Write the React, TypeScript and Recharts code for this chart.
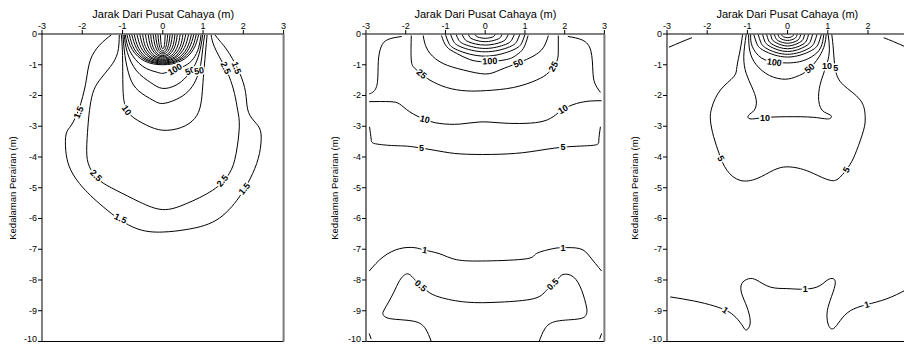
import React from "react";
import { ScatterChart, Scatter, XAxis, YAxis } from "recharts";

type Pt = [number, number];

interface ContourLabel {
  x: number;
  y: number;
  t: string;
  a: number;
}

const xTicks = [-3, -2, -1, 0, 1, 2, 3];
const yTicks = [0, -1, -2, -3, -4, -5, -6, -7, -8, -9, -10];

const xTitle = "Jarak Dari Pusat Cahaya (m)";
const yTitle = "Kedalaman Perairan (m)";

// ---- panel 1 ----
const p1Lv1_5: Pt[] = [[-1.28,-0.03],[-1.57,-0.36],[-1.8,-0.85],[-1.9,-1.5],[-1.99,-2.04],[-2.1,-2.5],[-2.27,-2.96],[-2.4,-3.25],[-2.41,-3.78],[-2.32,-4.32],[-2.07,-4.86],[-1.57,-5.52],[-0.74,-6.28],[0,-6.44],[0.58,-6.36],[1.32,-6.06],[1.9,-5.3],[2.23,-4.54],[2.4,-3.89],[2.44,-3.25],[2.32,-2.91],[2.13,-2.55],[2.07,-2.04],[1.95,-1.4],[1.65,-0.63],[1.4,-0.2],[1.3,-0.03]];
const p1Lv2_5: Pt[] = [[-1.08,-0.03],[-1.12,-0.6],[-1.3,-1.06],[-1.57,-1.5],[-1.74,-1.93],[-1.82,-2.48],[-1.86,-3.02],[-1.89,-3.78],[-1.82,-4.32],[-1.57,-4.76],[-1.16,-5.08],[-0.58,-5.46],[0,-5.71],[0.58,-5.52],[1.24,-5.08],[1.65,-4.54],[1.82,-3.89],[1.9,-3.02],[1.86,-2.48],[1.78,-1.93],[1.65,-1.39],[1.49,-0.95],[1.28,-0.41],[1.2,-0.03]];
const p1Lv10: Pt[] = [[-1.03,-0.03],[-1.0,-0.7],[-0.99,-1.72],[-0.95,-2.26],[-0.8,-2.64],[-0.41,-2.96],[0,-3.13],[0.46,-3.04],[0.79,-2.75],[0.94,-2.31],[0.99,-1.72],[1.03,-1.06],[1.1,-0.03]];
const p1Lv25: Pt[] = [[-0.99,-0.03],[-0.94,-0.7],[-0.82,-1.4],[-0.6,-1.85],[-0.25,-2.15],[0,-2.26],[0.33,-2.13],[0.62,-1.88],[0.82,-1.5],[0.94,-1.0],[0.99,-0.5],[1.04,-0.03]];
const p1Lv50: Pt[] = [[-0.96,-0.03],[-0.88,-0.6],[-0.65,-1.2],[-0.3,-1.58],[0,-1.77],[0.33,-1.66],[0.58,-1.4],[0.8,-1.0],[0.93,-0.5],[0.99,-0.03]];
const p1Lv100: Pt[] = [[-0.93,-0.03],[-0.82,-0.55],[-0.5,-1.05],[-0.15,-1.24],[0,-1.28],[0.21,-1.2],[0.54,-1.04],[0.76,-0.8],[0.89,-0.45],[0.95,-0.03]];
const p1Core: Pt[][] = [
  [[-0.89,-0.02],[-0.76,-0.5],[-0.45,-0.88],[0,-1.0],[0.45,-0.88],[0.76,-0.5],[0.89,-0.02]],
  [[-0.83,-0.02],[-0.71,-0.49],[-0.42,-0.85],[0,-0.97],[0.42,-0.85],[0.71,-0.49],[0.83,-0.02]],
  [[-0.77,-0.02],[-0.65,-0.47],[-0.39,-0.83],[0,-0.94],[0.39,-0.83],[0.65,-0.47],[0.77,-0.02]],
  [[-0.71,-0.02],[-0.6,-0.46],[-0.36,-0.8],[0,-0.91],[0.36,-0.8],[0.6,-0.46],[0.71,-0.02]],
  [[-0.64,-0.02],[-0.54,-0.44],[-0.32,-0.77],[0,-0.88],[0.32,-0.77],[0.54,-0.44],[0.64,-0.02]],
  [[-0.57,-0.02],[-0.48,-0.43],[-0.29,-0.75],[0,-0.85],[0.29,-0.75],[0.48,-0.43],[0.57,-0.02]],
  [[-0.5,-0.02],[-0.43,-0.41],[-0.25,-0.72],[0,-0.82],[0.25,-0.72],[0.43,-0.41],[0.5,-0.02]],
  [[-0.43,-0.02],[-0.37,-0.39],[-0.22,-0.69],[0,-0.78],[0.22,-0.69],[0.37,-0.39],[0.43,-0.02]],
  [[-0.36,-0.02],[-0.31,-0.37],[-0.18,-0.65],[0,-0.74],[0.18,-0.65],[0.31,-0.37],[0.36,-0.02]],
  [[-0.3,-0.02],[-0.26,-0.35],[-0.15,-0.62],[0,-0.7],[0.15,-0.62],[0.26,-0.35],[0.3,-0.02]],
  [[-0.24,-0.02],[-0.2,-0.33],[-0.12,-0.57],[0,-0.65],[0.12,-0.57],[0.2,-0.33],[0.24,-0.02]],
  [[-0.18,-0.02],[-0.15,-0.3],[-0.09,-0.53],[0,-0.6],[0.09,-0.53],[0.15,-0.3],[0.18,-0.02]],
  [[-0.12,-0.02],[-0.1,-0.28],[-0.06,-0.48],[0,-0.55],[0.06,-0.48],[0.1,-0.28],[0.12,-0.02]],
  [[-0.06,-0.02],[-0.05,-0.24],[-0.03,-0.42],[0,-0.48],[0.03,-0.42],[0.05,-0.24],[0.06,-0.02]],
];
const p1Labels: ContourLabel[] = [
  { x: -2.09, y: -2.55, t: "1.5", a: -68 },
  { x: -1.66, y: -4.6, t: "2.5", a: 45 },
  { x: -1.05, y: -6.0, t: "1.5", a: 25 },
  { x: 1.48, y: -4.77, t: "2.5", a: -50 },
  { x: 2.03, y: -5.03, t: "1.5", a: -50 },
  { x: 1.56, y: -1.1, t: "2.5", a: 65 },
  { x: 1.83, y: -1.1, t: "1.5", a: 70 },
  { x: 0.3, y: -1.15, t: "100", a: -30 },
  { x: 0.68, y: -1.2, t: "50", a: -20 },
  { x: 0.9, y: -1.2, t: "50", a: -10 },
  { x: -0.9, y: -2.48, t: "10", a: 55 },
];

// ---- panel 2 ----
const p2CornerL: Pt[] = [[-2.92,-1.95],[-2.8,-1.86],[-2.71,-1.55],[-2.69,-0.9],[-2.62,-0.42],[-2.45,-0.18],[-2.1,-0.08]];
const p2CornerR: Pt[] = [[2.08,-0.08],[2.45,-0.2],[2.66,-0.55],[2.71,-1.2],[2.76,-1.6],[2.9,-1.9]];
const p2Lv25: Pt[] = [[-1.86,-0.05],[-1.86,-0.85],[-1.77,-1.12],[-1.6,-1.3],[-1.39,-1.5],[-0.97,-1.74],[-0.47,-1.85],[0.03,-1.84],[0.71,-1.74],[1.29,-1.5],[1.6,-1.25],[1.8,-0.9],[1.84,-0.52],[1.84,-0.05]];
const p2Lv50: Pt[] = [[-1.56,-0.05],[-1.52,-0.3],[-1.39,-0.63],[-1.06,-0.96],[-0.55,-1.17],[0,-1.3],[0.37,-1.17],[0.83,-0.94],[1.21,-0.72],[1.46,-0.45],[1.59,-0.05]];
const p2Lv100: Pt[] = [[-1.1,-0.05],[-0.97,-0.41],[-0.72,-0.63],[-0.39,-0.83],[0,-0.9],[0.54,-0.83],[0.79,-0.68],[0.96,-0.47],[1.08,-0.05]];
const p2Core: Pt[][] = [
  [[-1.0,-0.02],[-0.92,-0.29],[-0.7,-0.52],[0,-0.72],[0.7,-0.52],[0.92,-0.29],[1.0,-0.02]],
  [[-0.87,-0.02],[-0.8,-0.23],[-0.61,-0.42],[0,-0.58],[0.61,-0.42],[0.8,-0.23],[0.87,-0.02]],
  [[-0.73,-0.02],[-0.67,-0.19],[-0.51,-0.34],[0,-0.47],[0.51,-0.34],[0.67,-0.19],[0.73,-0.02]],
  [[-0.58,-0.02],[-0.53,-0.14],[-0.41,-0.26],[0,-0.36],[0.41,-0.26],[0.53,-0.14],[0.58,-0.02]],
  [[-0.42,-0.02],[-0.39,-0.1],[-0.29,-0.18],[0,-0.25],[0.29,-0.18],[0.39,-0.1],[0.42,-0.02]],
  [[-0.25,-0.02],[-0.23,-0.06],[-0.18,-0.1],[0,-0.14],[0.18,-0.1],[0.23,-0.06],[0.25,-0.02]],
];
const p2Lv10: Pt[] = [[-2.92,-2.2],[-2.4,-2.2],[-2.15,-2.28],[-1.9,-2.53],[-1.52,-2.78],[-1.14,-2.91],[-0.64,-2.93],[-0.13,-2.86],[0.37,-2.89],[0.87,-2.91],[1.38,-2.86],[1.71,-2.69],[1.96,-2.45],[2.3,-2.26],[2.64,-2.18],[2.93,-2.17]];
const p2Lv5: Pt[] = [[-2.91,-3.02],[-2.87,-3.42],[-2.76,-3.57],[-2.3,-3.63],[-1.81,-3.67],[-1.06,-3.83],[-0.47,-3.91],[0.37,-3.91],[1.13,-3.83],[1.96,-3.68],[2.72,-3.62],[2.86,-3.45],[2.9,-3.02]];
const p2Lv1: Pt[] = [[-2.92,-7.71],[-2.57,-7.25],[-2.15,-6.98],[-1.77,-6.95],[-1.52,-7.03],[-1.14,-7.15],[-0.72,-7.34],[0.03,-7.38],[1.04,-7.31],[1.29,-7.14],[1.71,-6.98],[1.96,-6.95],[2.38,-6.98],[2.64,-7.25],[2.93,-7.71]];
const p2Lv0_5: Pt[] = [[-1.36,-9.99],[-1.5,-9.59],[-1.8,-9.34],[-2.38,-9.26],[-2.57,-9.12],[-2.53,-8.94],[-2.32,-8.45],[-2.15,-8.01],[-1.96,-7.8],[-1.77,-7.99],[-1.48,-8.34],[-1.14,-8.56],[-0.47,-8.72],[0.37,-8.72],[1.21,-8.61],[1.54,-8.34],[1.8,-8.01],[1.96,-7.82],[2.22,-7.9],[2.43,-8.34],[2.55,-8.88],[2.55,-9.1],[2.38,-9.26],[1.8,-9.34],[1.5,-9.59],[1.36,-9.99]];
const p2EdgeL: Pt[] = [[-2.92,-9.74],[-2.87,-9.92]];
const p2EdgeR: Pt[] = [[2.88,-9.92],[2.93,-9.74]];
const p2Labels: ContourLabel[] = [
  { x: 0.12, y: -0.88, t: "100", a: -3 },
  { x: 0.83, y: -0.95, t: "50", a: -25 },
  { x: -1.6, y: -1.3, t: "25", a: 40 },
  { x: 1.72, y: -1.06, t: "25", a: -60 },
  { x: -1.52, y: -2.78, t: "10", a: 15 },
  { x: 1.96, y: -2.45, t: "10", a: -30 },
  { x: -1.6, y: -3.7, t: "5", a: 0 },
  { x: 1.96, y: -3.68, t: "5", a: 0 },
  { x: -1.52, y: -7.03, t: "1", a: 10 },
  { x: 1.96, y: -6.95, t: "1", a: 0 },
  { x: -1.62, y: -8.19, t: "0.5", a: 40 },
  { x: 1.7, y: -8.14, t: "0.5", a: -45 },
];

// ---- panel 3 ----
const p3CornerL: Pt[] = [[-2.95,-0.43],[-2.63,-0.25],[-2.38,-0.12]];
const p3CornerR: Pt[] = [[2.39,-0.12],[2.64,-0.25],[2.95,-0.43]];
const p3Lv100: Pt[] = [[-0.92,-0.02],[-0.88,-0.4],[-0.65,-0.78],[-0.3,-0.92],[0,-0.94],[0.3,-0.9],[0.6,-0.74],[0.82,-0.45],[0.9,-0.02]];
const p3Core: Pt[][] = [
  [[-0.84,-0.02],[-0.77,-0.3],[-0.59,-0.54],[0,-0.75],[0.59,-0.54],[0.77,-0.3],[0.84,-0.02]],
  [[-0.73,-0.02],[-0.67,-0.26],[-0.51,-0.48],[0,-0.66],[0.51,-0.48],[0.67,-0.26],[0.73,-0.02]],
  [[-0.62,-0.02],[-0.57,-0.23],[-0.43,-0.41],[0,-0.57],[0.43,-0.41],[0.57,-0.23],[0.62,-0.02]],
  [[-0.52,-0.02],[-0.48,-0.19],[-0.36,-0.35],[0,-0.48],[0.36,-0.35],[0.48,-0.19],[0.52,-0.02]],
  [[-0.42,-0.02],[-0.39,-0.16],[-0.29,-0.28],[0,-0.39],[0.29,-0.28],[0.39,-0.16],[0.42,-0.02]],
  [[-0.33,-0.02],[-0.3,-0.12],[-0.23,-0.22],[0,-0.3],[0.23,-0.22],[0.3,-0.12],[0.33,-0.02]],
  [[-0.24,-0.02],[-0.22,-0.08],[-0.17,-0.15],[0,-0.21],[0.17,-0.15],[0.22,-0.08],[0.24,-0.02]],
  [[-0.15,-0.02],[-0.14,-0.05],[-0.1,-0.09],[0,-0.12],[0.1,-0.09],[0.14,-0.05],[0.15,-0.02]],
];
const p3Lv50: Pt[] = [[-0.97,-0.02],[-0.94,-0.55],[-0.78,-1.0],[-0.45,-1.35],[-0.06,-1.47],[0.23,-1.38],[0.5,-1.18],[0.78,-0.75],[0.92,-0.35],[0.96,-0.02]];
const p3Lv10: Pt[] = [[-1.03,-0.02],[-1.09,-0.74],[-1.03,-1.28],[-0.89,-1.72],[-0.78,-2.15],[-0.83,-2.48],[-0.97,-2.64],[-0.93,-2.76],[-0.6,-2.72],[-0.02,-2.69],[0.65,-2.71],[1.02,-2.76],[1.07,-2.64],[0.86,-2.48],[0.77,-2.04],[0.84,-1.5],[0.98,-0.96],[1.04,-0.5],[1.01,-0.02]];
const p3Lv5: Pt[] = [[-1.12,-0.02],[-1.18,-0.52],[-1.26,-1.06],[-1.34,-1.39],[-1.67,-1.82],[-1.88,-2.37],[-1.92,-2.8],[-1.84,-3.34],[-1.7,-3.9],[-1.51,-4.43],[-1.18,-4.76],[-0.76,-4.7],[-0.35,-4.43],[-0.02,-4.32],[0.32,-4.38],[0.65,-4.54],[1.06,-4.76],[1.31,-4.65],[1.55,-4.25],[1.72,-3.78],[1.89,-3.13],[1.93,-2.69],[1.81,-2.15],[1.39,-1.66],[1.19,-1.17],[1.14,-0.52],[1.1,-0.02]];
const p3Lv1: Pt[] = [[-2.92,-8.55],[-2.34,-8.68],[-1.84,-8.84],[-1.55,-8.98],[-1.34,-9.15],[-1.14,-9.45],[-1.05,-9.62],[-0.97,-9.56],[-0.93,-9.32],[-1.01,-8.88],[-1.14,-8.45],[-1.14,-8.12],[-0.97,-7.96],[-0.76,-8.01],[-0.43,-8.23],[-0.02,-8.28],[0.32,-8.3],[0.73,-8.23],[0.98,-8.01],[1.14,-7.96],[1.18,-8.17],[1.06,-8.66],[0.98,-9.1],[1.02,-9.48],[1.14,-9.58],[1.31,-9.32],[1.56,-9.0],[1.97,-8.8],[2.47,-8.61],[2.95,-8.32]];
const p3Labels: ContourLabel[] = [
  { x: -0.33, y: -0.92, t: "100", a: 8 },
  { x: 0.55, y: -1.12, t: "50", a: -40 },
  { x: 0.98, y: -1.03, t: "10", a: 0 },
  { x: 1.2, y: -1.12, t: "5", a: 0 },
  { x: -0.56, y: -2.72, t: "10", a: 0 },
  { x: -1.66, y: -4.05, t: "5", a: 60 },
  { x: 1.46, y: -4.42, t: "5", a: -60 },
  { x: 0.44, y: -8.29, t: "1", a: 0 },
  { x: -1.55, y: -8.98, t: "1", a: 35 },
  { x: 1.97, y: -8.8, t: "1", a: -15 },
];

const FONT = '"Liberation Sans", Arial, sans-serif';
const GRAY = "#7a7a7a";

const toPts = (line: Pt[]) => line.map(([x, y]) => ({ x, y }));

function NoDot() {
  return null;
}

function LabelMark(props: any) {
  const { cx, cy, payload } = props;
  if (cx == null || cy == null) return null;
  return (
    <text
      x={cx}
      y={cy}
      transform={`rotate(${payload.a} ${cx} ${cy})`}
      textAnchor="middle"
      dominantBaseline="central"
      fontSize={9}
      fontWeight={700}
      fontFamily={FONT}
      fill="#000"
      stroke="#fff"
      strokeWidth={3}
      paintOrder="stroke"
    >
      {payload.t}
    </text>
  );
}

// y tick text, the bottom one nudged so it stays inside the page
function YTick(props: any) {
  const { x, y, payload } = props;
  return (
    <text
      x={x}
      y={Math.min(y, 339.5)}
      textAnchor="end"
      dominantBaseline="central"
      fontSize={9}
      fontFamily={FONT}
      fill="#000"
    >
      {payload.value}
    </text>
  );
}

interface PanelProps {
  lines: Pt[][];
  labels: ContourLabel[];
  plotLeft: number;
  plotRight: number;
  yLabelX: number;
  leftColor: string;
  leftWidth: number;
  rightColor: string;
  rightWidth: number;
  hideLastX?: boolean;
}

function Panel({ lines, labels, plotLeft, plotRight, yLabelX, leftColor, leftWidth, rightColor, rightWidth, hideLastX }: PanelProps) {
  const padL = 50;
  const padR = 20;
  const width = plotRight - plotLeft + padL + padR;
  const tickStyle = { fontSize: 9, fill: "#000", fontFamily: FONT };
  return (
    <>
      <div
        style={{
          position: "absolute",
          left: (plotLeft + plotRight) / 2,
          top: 14,
          transform: "translate(-50%, -50%)",
          fontSize: 11,
          whiteSpace: "nowrap",
          lineHeight: 1,
        }}
      >
        {xTitle}
      </div>
      <div
        style={{
          position: "absolute",
          left: yLabelX,
          top: 188,
          transform: "translate(-50%, -50%) rotate(-90deg)",
          fontSize: 9.5,
          whiteSpace: "nowrap",
          lineHeight: 1,
        }}
      >
        {yTitle}
      </div>
      <div style={{ position: "absolute", left: plotLeft - padL, top: 0 }}>
        <ScatterChart width={width} height={345} margin={{ top: 4, right: padR - 10, bottom: 0, left: padL - 40 }}>
          <XAxis
            type="number"
            dataKey="x"
            orientation="top"
            domain={[-3, 3]}
            ticks={xTicks}
            interval={0}
            height={30}
            tickSize={4}
            tickMargin={1}
            tick={tickStyle}
            tickFormatter={(v: number) => (hideLastX && v === 3 ? "" : String(v))}
            axisLine={{ stroke: "#000", strokeWidth: 1 }}
            tickLine={{ stroke: "#000" }}
          />
          <XAxis
            xAxisId="b"
            type="number"
            dataKey="x"
            orientation="bottom"
            domain={[-3, 3]}
            ticks={xTicks}
            interval={0}
            height={3.5}
            tickSize={2}
            tickFormatter={() => ""}
            axisLine={{ stroke: "#000", strokeWidth: 1 }}
            tickLine={{ stroke: "#000" }}
          />
          <YAxis
            type="number"
            dataKey="y"
            domain={[-10, 0]}
            ticks={yTicks}
            interval={0}
            width={40}
            tickSize={4}
            tickMargin={1}
            tick={YTick}
            axisLine={{ stroke: leftColor, strokeWidth: leftWidth }}
            tickLine={{ stroke: "#000" }}
          />
          <YAxis
            yAxisId="r"
            type="number"
            dataKey="y"
            orientation="right"
            domain={[-10, 0]}
            ticks={yTicks}
            interval={0}
            width={10}
            tickSize={4}
            tickFormatter={() => ""}
            axisLine={{ stroke: rightColor, strokeWidth: rightWidth }}
            tickLine={{ stroke: "#000" }}
          />
          {lines.map((line, i) => (
            <Scatter
              key={i}
              data={toPts(line)}
              fill="#000"
              shape={NoDot}
              line={{ stroke: "#000", strokeWidth: 1 }}
              lineJointType="natural"
              isAnimationActive={false}
              legendType="none"
            />
          ))}
          <Scatter data={labels} shape={LabelMark} isAnimationActive={false} legendType="none" />
        </ScatterChart>
      </div>
    </>
  );
}

export default function App() {
  return (
    <div
      style={{
        position: "absolute",
        left: 0,
        top: 0,
        width: 904,
        height: 345,
        overflow: "hidden",
        background: "#fff",
        fontFamily: FONT,
        color: "#000",
      }}
    >
      <Panel
        lines={[p1Lv1_5, p1Lv2_5, p1Lv10, p1Lv25, p1Lv50, p1Lv100, ...p1Core]}
        labels={p1Labels}
        plotLeft={42.4}
        plotRight={284}
        yLabelX={13}
        leftColor="#000"
        leftWidth={1}
        rightColor={GRAY}
        rightWidth={2}
      />
      <Panel
        lines={[p2CornerL, p2CornerR, p2Lv25, p2Lv50, p2Lv100, ...p2Core, p2Lv10, p2Lv5, p2Lv1, p2Lv0_5, p2EdgeL, p2EdgeR]}
        labels={p2Labels}
        plotLeft={366.2}
        plotRight={604.6}
        yLabelX={335}
        leftColor={GRAY}
        leftWidth={2}
        rightColor={GRAY}
        rightWidth={2}
      />
      <Panel
        lines={[p3CornerL, p3CornerR, p3Lv100, ...p3Core, p3Lv50, p3Lv10, p3Lv5, p3Lv1]}
        labels={p3Labels}
        plotLeft={666.7}
        plotRight={907.9}
        yLabelX={635}
        leftColor="#000"
        leftWidth={1}
        rightColor="#000"
        rightWidth={1}
        hideLastX
      />
    </div>
  );
}
